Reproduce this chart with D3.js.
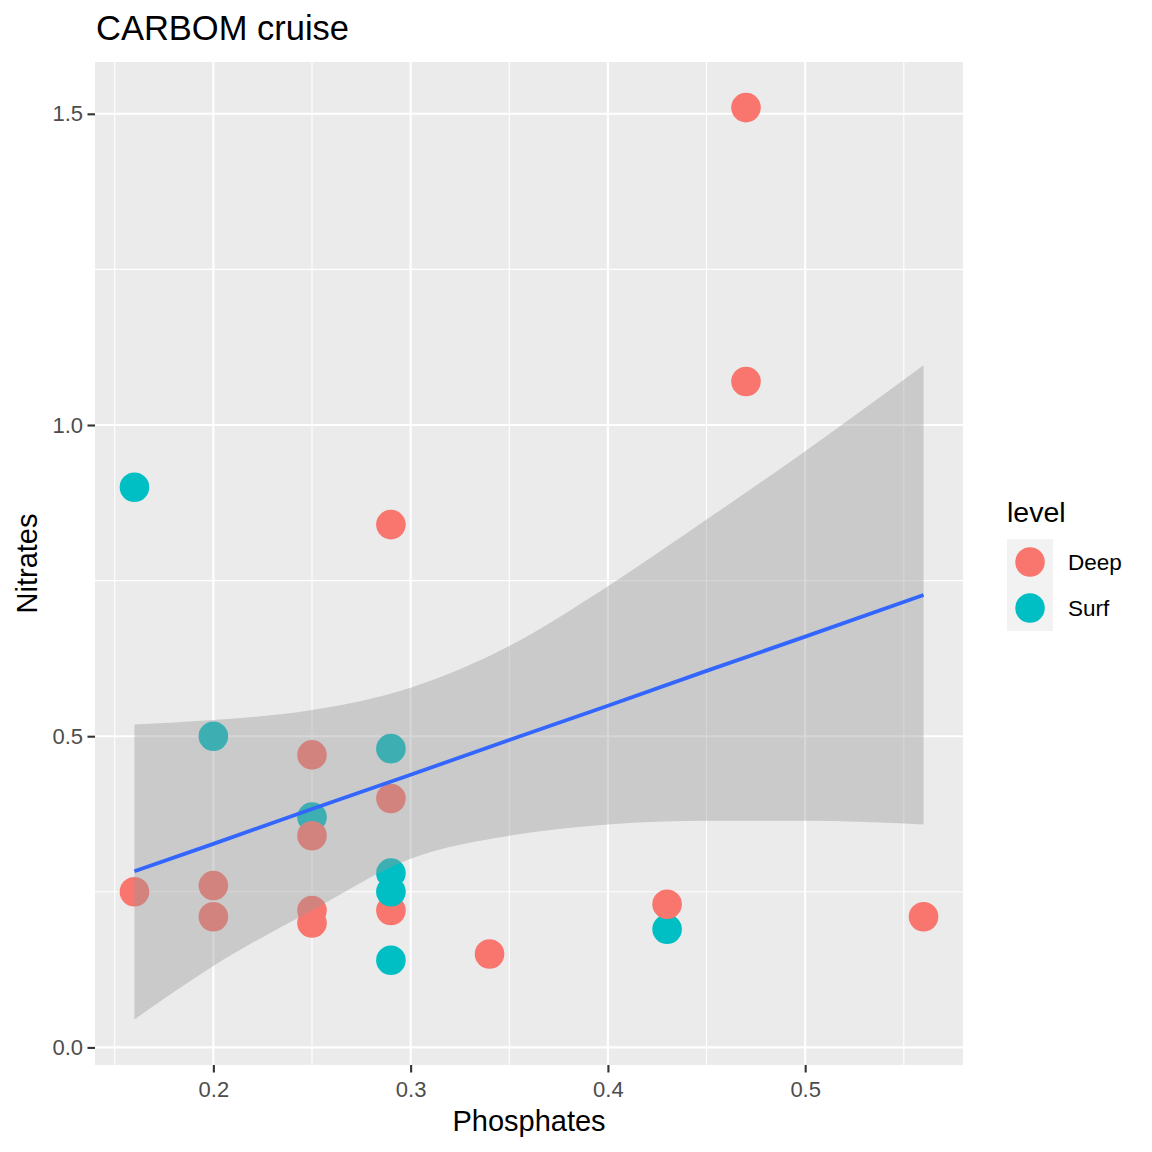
<!DOCTYPE html>
<html>
	<head>
		<meta charset="utf-8" />
		<script src="https://d3js.org/d3.v7.min.js"></script>
		<style>
			body {
				margin: 0;
				background: white;
			}
			text {
				font-family: "Liberation Sans", Arial, sans-serif;
			}
		</style>
	</head>
	<body>
		<div id="chart"></div>
		<script>

	// points, in the order they are drawn
	var phosphates = [0.16, 0.16, 0.20, 0.20, 0.20, 0.25, 0.25, 0.25, 0.25, 0.25, 0.29, 0.29,
	                  0.29, 0.29, 0.29, 0.29, 0.29, 0.34, 0.43, 0.43, 0.47, 0.47, 0.56]
	var nitrates   = [0.90, 0.25, 0.50, 0.26, 0.21, 0.47, 0.37, 0.34, 0.22, 0.20, 0.48, 0.84,
	                  0.40, 0.28, 0.22, 0.25, 0.14, 0.15, 0.19, 0.23, 1.07, 1.51, 0.21]
	var level      = ["Surf", "Deep", "Surf", "Deep", "Deep", "Deep", "Surf", "Deep", "Deep", "Deep", "Surf", "Deep",
	                  "Deep", "Surf", "Deep", "Surf", "Surf", "Deep", "Surf", "Deep", "Deep", "Deep", "Deep"]

	// smoother (lm)
	var smoothX     = [0.16, 0.20, 0.25, 0.30, 0.35, 0.40, 0.45, 0.50, 0.56]
	var smoothFit   = [0.283, 0.327, 0.383, 0.438, 0.494, 0.549, 0.605, 0.660, 0.727]
	var smoothLower = [0.045, 0.131, 0.220, 0.303, 0.340, 0.358, 0.364, 0.364, 0.358]
	var smoothUpper = [0.519, 0.526, 0.542, 0.578, 0.645, 0.741, 0.848, 0.958, 1.096]

	var levels = ["Deep", "Surf"]
	var levelColors = ["#F8766D", "#00BFC4"]
	var xTicks = [0.2, 0.3, 0.4, 0.5]
	var xMinor = [0.15, 0.25, 0.35, 0.45, 0.55]
	var yTicks = [0.0, 0.5, 1.0, 1.5]
	var yMinor = [0.25, 0.75, 1.25]

	var margin = {top: 62, right: 189, bottom: 87, left: 95},
	    width = 1152 - margin.left - margin.right,
	    height = 1152 - margin.top - margin.bottom;

	var svg = d3.select("#chart")
	    .append("svg")
	    .attr("width", 1152)
	    .attr("height", 1152)

	var g = svg.append("g")
	    .attr("transform", "translate(" + margin.left + "," + margin.top + ")");

	// ggplot style 5% expansion of the data range
	function expand(ext) {
	  var pad = (ext[1] - ext[0]) * 0.05
	  return [ext[0] - pad, ext[1] + pad]
	}

	var x = d3.scaleLinear()
	    .domain(expand(d3.extent(phosphates)))
	    .range([0, width]);

	var y = d3.scaleLinear()
	    .domain(expand([d3.min(smoothLower.concat(nitrates)), d3.max(smoothUpper.concat(nitrates))]))
	    .range([height, 0]);

	var color = d3.scaleOrdinal()
	    .domain(levels)
	    .range(levelColors);

	// panel
	g.append("rect")
	    .attr("width", width)
	    .attr("height", height)
	    .attr("fill", "#EBEBEB")

	g.selectAll(".xminor").data(xMinor).enter().append("line")
	    .attr("x1", function(d){ return x(d) }).attr("x2", function(d){ return x(d) })
	    .attr("y1", 0).attr("y2", height)
	    .attr("stroke", "white").attr("stroke-width", 1.1)
	g.selectAll(".yminor").data(yMinor).enter().append("line")
	    .attr("y1", function(d){ return y(d) }).attr("y2", function(d){ return y(d) })
	    .attr("x1", 0).attr("x2", width)
	    .attr("stroke", "white").attr("stroke-width", 1.1)
	g.selectAll(".xmajor").data(xTicks).enter().append("line")
	    .attr("x1", function(d){ return x(d) }).attr("x2", function(d){ return x(d) })
	    .attr("y1", 0).attr("y2", height)
	    .attr("stroke", "white").attr("stroke-width", 2.1)
	g.selectAll(".ymajor").data(yTicks).enter().append("line")
	    .attr("y1", function(d){ return y(d) }).attr("y2", function(d){ return y(d) })
	    .attr("x1", 0).attr("x2", width)
	    .attr("stroke", "white").attr("stroke-width", 2.1)

	// points
	g.append("g")
	    .selectAll("circle")
	    .data(d3.range(phosphates.length))
	    .enter()
	    .append("circle")
	    .attr("cx", function(i){ return x(phosphates[i]) })
	    .attr("cy", function(i){ return y(nitrates[i]) })
	    .attr("r", 14.8)
	    .attr("fill", function(i){ return color(level[i]) })

	// confidence band and fitted line
	var area = d3.area()
	    .x(function(i){ return x(smoothX[i]) })
	    .y0(function(i){ return y(smoothLower[i]) })
	    .y1(function(i){ return y(smoothUpper[i]) })
	    .curve(d3.curveMonotoneX)

	g.append("path")
	    .datum(d3.range(smoothX.length))
	    .attr("d", area)
	    .attr("fill", "#999999")
	    .attr("fill-opacity", 0.4)

	var line = d3.line()
	    .x(function(i){ return x(smoothX[i]) })
	    .y(function(i){ return y(smoothFit[i]) })

	g.append("path")
	    .datum(d3.range(smoothX.length))
	    .attr("d", line)
	    .attr("fill", "none")
	    .attr("stroke", "#3366FF")
	    .attr("stroke-width", 3.8)

	// axes
	var xAxis = g.append("g")
	    .attr("transform", "translate(0," + height + ")")
	    .call(d3.axisBottom(x).tickValues(xTicks).tickFormat(d3.format(".1f")).tickSize(7.5).tickPadding(9))
	xAxis.select(".domain").remove()
	xAxis.selectAll("line").attr("stroke", "#333333").attr("stroke-width", 2.1)
	xAxis.selectAll("text")
	    .style("fill", "#4D4D4D")
	    .style("font-size", "22px")
	    .style("font-family", "Liberation Sans, Arial, sans-serif")

	var yAxis = g.append("g")
	    .call(d3.axisLeft(y).tickValues(yTicks).tickFormat(d3.format(".1f")).tickSize(7.5).tickPadding(4.5))
	yAxis.select(".domain").remove()
	yAxis.selectAll("line").attr("stroke", "#333333").attr("stroke-width", 2.1)
	yAxis.selectAll("text")
	    .style("fill", "#4D4D4D")
	    .style("font-size", "22px")
	    .style("font-family", "Liberation Sans, Arial, sans-serif")

	// titles
	svg.append("text")
	    .attr("x", 96)
	    .attr("y", 40)
	    .style("font-size", "34.5px")
	    .text("CARBOM cruise")

	svg.append("text")
	    .attr("x", margin.left + width / 2)
	    .attr("y", 1131)
	    .attr("text-anchor", "middle")
	    .style("font-size", "29px")
	    .text("Phosphates")

	svg.append("text")
	    .attr("transform", "translate(37," + (margin.top + height / 2) + ") rotate(-90)")
	    .attr("text-anchor", "middle")
	    .style("font-size", "29px")
	    .text("Nitrates")

	// legend
	var legend = svg.append("g")
	    .attr("transform", "translate(1007,539)")

	legend.append("text")
	    .attr("x", 0)
	    .attr("y", -17)
	    .style("font-size", "28.5px")
	    .text("level")

	legend.selectAll("rect")
	    .data(levels)
	    .enter()
	    .append("rect")
	    .attr("x", 0)
	    .attr("y", function(d, i){ return i * 46 })
	    .attr("width", 46)
	    .attr("height", 46)
	    .attr("fill", "#F2F2F2")

	legend.selectAll("circle")
	    .data(levels)
	    .enter()
	    .append("circle")
	    .attr("cx", 23)
	    .attr("cy", function(d, i){ return 23 + i * 46 })
	    .attr("r", 14.8)
	    .attr("fill", function(d){ return color(d) })

	legend.selectAll(".lab")
	    .data(levels)
	    .enter()
	    .append("text")
	    .attr("x", 61)
	    .attr("y", function(d, i){ return 23 + i * 46 })
	    .attr("dy", "0.36em")
	    .style("font-size", "22.5px")
	    .text(function(d){ return d })

		</script>
	</body>
</html>
